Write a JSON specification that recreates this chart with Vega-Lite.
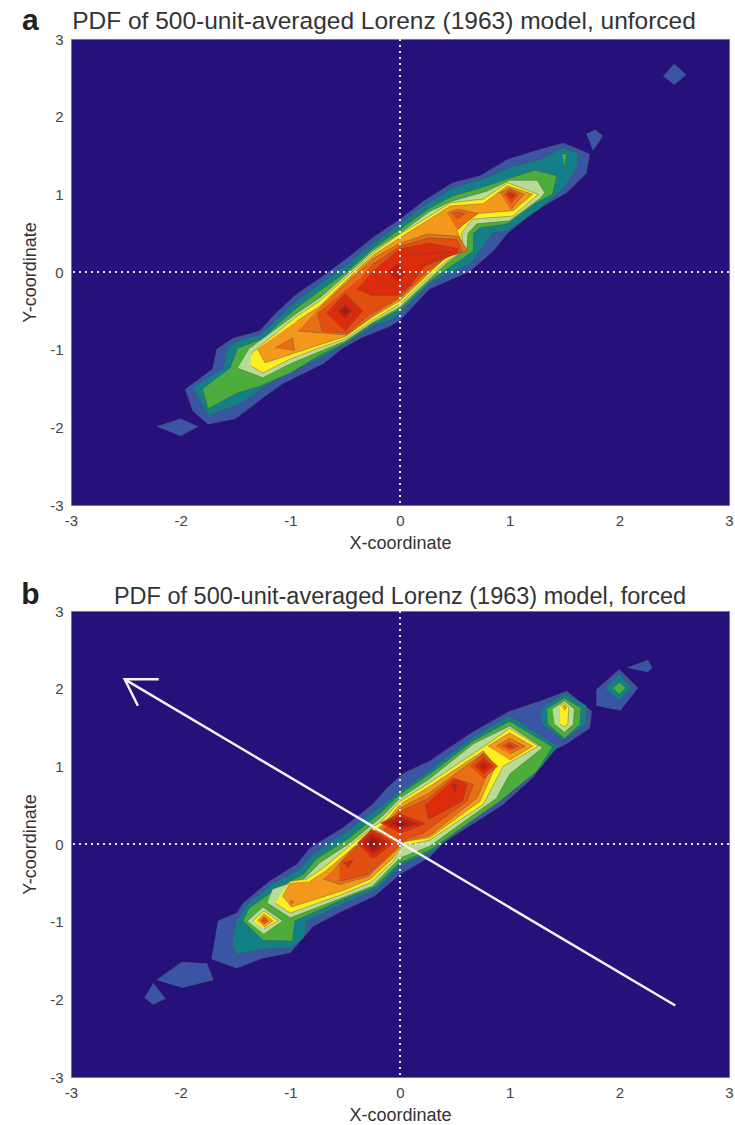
{"$schema":"https://vega.github.io/schema/vega-lite/v6.json","background":"white","padding":{"left":20,"top":5,"right":0,"bottom":0},"spacing":26,
"config":{"view":{"fill":"#26107a","stroke":"#777","strokeWidth":1},"font":"Liberation Sans",
"axis":{"ticks":false,"domain":false,"grid":false,"labelFontSize":15,"labelColor":"#444","titleColor":"#333","titleFontSize":18,"titleFontWeight":"normal","labelPadding":8,"titlePadding":6,"labelFlush":false},
"title":{"fontWeight":"normal","color":"#333","anchor":"middle"}},
"datasets":{
"A":[
{"s":"a1","l":"L1","x":-1.96,"y":-1.51},{"s":"a1","l":"L1","x":-1.89,"y":-1.79},{"s":"a1","l":"L1","x":-1.75,"y":-1.96},{"s":"a1","l":"L1","x":-1.5,"y":-1.89},{"s":"a1","l":"L1","x":-1.23,"y":-1.6},{"s":"a1","l":"L1","x":-1.07,"y":-1.44},{"s":"a1","l":"L1","x":-0.7,"y":-1.18},{"s":"a1","l":"L1","x":-0.52,"y":-0.98},{"s":"a1","l":"L1","x":-0.34,"y":-0.84},{"s":"a1","l":"L1","x":-0.09,"y":-0.7},{"s":"a1","l":"L1","x":0,"y":-0.62},{"s":"a1","l":"L1","x":0.27,"y":-0.22},{"s":"a1","l":"L1","x":0.43,"y":-0.12},{"s":"a1","l":"L1","x":0.64,"y":0.01},{"s":"a1","l":"L1","x":0.85,"y":0.27},{"s":"a1","l":"L1","x":0.98,"y":0.5},{"s":"a1","l":"L1","x":1.26,"y":0.81},{"s":"a1","l":"L1","x":1.52,"y":1.02},{"s":"a1","l":"L1","x":1.7,"y":1.27},{"s":"a1","l":"L1","x":1.73,"y":1.52},{"s":"a1","l":"L1","x":1.49,"y":1.66},{"s":"a1","l":"L1","x":1.28,"y":1.58},{"s":"a1","l":"L1","x":0.98,"y":1.45},{"s":"a1","l":"L1","x":0.73,"y":1.24},{"s":"a1","l":"L1","x":0.48,"y":1.15},{"s":"a1","l":"L1","x":0.21,"y":0.91},{"s":"a1","l":"L1","x":0,"y":0.68},{"s":"a1","l":"L1","x":-0.25,"y":0.44},{"s":"a1","l":"L1","x":-0.48,"y":0.18},{"s":"a1","l":"L1","x":-0.73,"y":-0.08},{"s":"a1","l":"L1","x":-0.94,"y":-0.28},{"s":"a1","l":"L1","x":-1.14,"y":-0.54},{"s":"a1","l":"L1","x":-1.28,"y":-0.76},{"s":"a1","l":"L1","x":-1.52,"y":-0.85},{"s":"a1","l":"L1","x":-1.67,"y":-0.99},{"s":"a1","l":"L1","x":-1.71,"y":-1.25},
{"s":"a1b","l":"L1","x":-2.22,"y":-1.99},{"s":"a1b","l":"L1","x":-2,"y":-1.89},{"s":"a1b","l":"L1","x":-1.84,"y":-1.99},{"s":"a1b","l":"L1","x":-2,"y":-2.11},
{"s":"a1c","l":"L1","x":2.4,"y":2.52},{"s":"a1c","l":"L1","x":2.5,"y":2.68},{"s":"a1c","l":"L1","x":2.61,"y":2.54},{"s":"a1c","l":"L1","x":2.5,"y":2.41},
{"s":"a1d","l":"L1","x":1.7,"y":1.78},{"s":"a1d","l":"L1","x":1.78,"y":1.83},{"s":"a1d","l":"L1","x":1.85,"y":1.75},{"s":"a1d","l":"L1","x":1.76,"y":1.56},
{"s":"a2","l":"L2","x":-1.89,"y":-1.49},{"s":"a2","l":"L2","x":-1.75,"y":-1.85},{"s":"a2","l":"L2","x":-1.46,"y":-1.7},{"s":"a2","l":"L2","x":-1.25,"y":-1.49},{"s":"a2","l":"L2","x":-1.07,"y":-1.34},{"s":"a2","l":"L2","x":-0.73,"y":-1.11},{"s":"a2","l":"L2","x":-0.5,"y":-0.93},{"s":"a2","l":"L2","x":-0.25,"y":-0.7},{"s":"a2","l":"L2","x":-0.09,"y":-0.62},{"s":"a2","l":"L2","x":0,"y":-0.53},{"s":"a2","l":"L2","x":0.27,"y":-0.15},{"s":"a2","l":"L2","x":0.43,"y":-0.03},{"s":"a2","l":"L2","x":0.64,"y":0.1},{"s":"a2","l":"L2","x":0.76,"y":0.33},{"s":"a2","l":"L2","x":0.84,"y":0.5},{"s":"a2","l":"L2","x":0.98,"y":0.53},{"s":"a2","l":"L2","x":1.28,"y":0.82},{"s":"a2","l":"L2","x":1.49,"y":1.07},{"s":"a2","l":"L2","x":1.61,"y":1.34},{"s":"a2","l":"L2","x":1.63,"y":1.52},{"s":"a2","l":"L2","x":1.49,"y":1.6},{"s":"a2","l":"L2","x":1.28,"y":1.45},{"s":"a2","l":"L2","x":1.03,"y":1.36},{"s":"a2","l":"L2","x":0.76,"y":1.2},{"s":"a2","l":"L2","x":0.48,"y":1.08},{"s":"a2","l":"L2","x":0.21,"y":0.85},{"s":"a2","l":"L2","x":0,"y":0.62},{"s":"a2","l":"L2","x":-0.25,"y":0.37},{"s":"a2","l":"L2","x":-0.48,"y":0.1},{"s":"a2","l":"L2","x":-0.73,"y":-0.15},{"s":"a2","l":"L2","x":-0.94,"y":-0.37},{"s":"a2","l":"L2","x":-1.12,"y":-0.6},{"s":"a2","l":"L2","x":-1.26,"y":-0.8},{"s":"a2","l":"L2","x":-1.49,"y":-0.89},{"s":"a2","l":"L2","x":-1.57,"y":-0.98},{"s":"a2","l":"L2","x":-1.62,"y":-1.25},
{"s":"a3","l":"L3","x":-1.8,"y":-1.51},{"s":"a3","l":"L3","x":-1.75,"y":-1.76},{"s":"a3","l":"L3","x":-1.49,"y":-1.56},{"s":"a3","l":"L3","x":-1.28,"y":-1.47},{"s":"a3","l":"L3","x":-1,"y":-1.3},{"s":"a3","l":"L3","x":-0.73,"y":-1.07},{"s":"a3","l":"L3","x":-0.5,"y":-0.91},{"s":"a3","l":"L3","x":-0.25,"y":-0.67},{"s":"a3","l":"L3","x":0,"y":-0.48},{"s":"a3","l":"L3","x":0.27,"y":-0.12},{"s":"a3","l":"L3","x":0.43,"y":0.04},{"s":"a3","l":"L3","x":0.67,"y":0.27},{"s":"a3","l":"L3","x":0.67,"y":0.5},{"s":"a3","l":"L3","x":0.73,"y":0.57},{"s":"a3","l":"L3","x":0.98,"y":0.62},{"s":"a3","l":"L3","x":1.23,"y":0.88},{"s":"a3","l":"L3","x":1.39,"y":1},{"s":"a3","l":"L3","x":1.43,"y":1.24},{"s":"a3","l":"L3","x":1.23,"y":1.31},{"s":"a3","l":"L3","x":0.98,"y":1.2},{"s":"a3","l":"L3","x":0.73,"y":1.08},{"s":"a3","l":"L3","x":0.48,"y":0.98},{"s":"a3","l":"L3","x":0.27,"y":0.82},{"s":"a3","l":"L3","x":0,"y":0.55},{"s":"a3","l":"L3","x":-0.25,"y":0.3},{"s":"a3","l":"L3","x":-0.48,"y":0.01},{"s":"a3","l":"L3","x":-0.73,"y":-0.24},{"s":"a3","l":"L3","x":-0.94,"y":-0.46},{"s":"a3","l":"L3","x":-1.11,"y":-0.67},{"s":"a3","l":"L3","x":-1.25,"y":-0.86},{"s":"a3","l":"L3","x":-1.48,"y":-0.98},{"s":"a3","l":"L3","x":-1.55,"y":-1.24},
{"s":"a3b","l":"L3","x":1.48,"y":1.52},{"s":"a3b","l":"L3","x":1.52,"y":1.52},{"s":"a3b","l":"L3","x":1.5,"y":1.35},
{"s":"a4","l":"L4","x":-1.48,"y":-1.24},{"s":"a4","l":"L4","x":-1.25,"y":-1.36},{"s":"a4","l":"L4","x":-1,"y":-1.18},{"s":"a4","l":"L4","x":-0.76,"y":-1.04},{"s":"a4","l":"L4","x":-0.5,"y":-0.89},{"s":"a4","l":"L4","x":-0.25,"y":-0.65},{"s":"a4","l":"L4","x":0,"y":-0.45},{"s":"a4","l":"L4","x":0.27,"y":-0.09},{"s":"a4","l":"L4","x":0.43,"y":0.12},{"s":"a4","l":"L4","x":0.61,"y":0.3},{"s":"a4","l":"L4","x":0.62,"y":0.5},{"s":"a4","l":"L4","x":0.7,"y":0.62},{"s":"a4","l":"L4","x":1,"y":0.66},{"s":"a4","l":"L4","x":1.28,"y":0.95},{"s":"a4","l":"L4","x":1.32,"y":1.02},{"s":"a4","l":"L4","x":1.25,"y":1.18},{"s":"a4","l":"L4","x":1,"y":1.18},{"s":"a4","l":"L4","x":0.79,"y":1.04},{"s":"a4","l":"L4","x":0.47,"y":0.91},{"s":"a4","l":"L4","x":0.27,"y":0.78},{"s":"a4","l":"L4","x":0,"y":0.5},{"s":"a4","l":"L4","x":-0.25,"y":0.27},{"s":"a4","l":"L4","x":-0.39,"y":0.09},{"s":"a4","l":"L4","x":-0.73,"y":-0.33},{"s":"a4","l":"L4","x":-0.94,"y":-0.53},{"s":"a4","l":"L4","x":-1.12,"y":-0.72},{"s":"a4","l":"L4","x":-1.37,"y":-0.98},
{"s":"a5","l":"L5","x":-1.36,"y":-1.21},{"s":"a5","l":"L5","x":-1.25,"y":-1.3},{"s":"a5","l":"L5","x":-1,"y":-1.12},{"s":"a5","l":"L5","x":-0.76,"y":-0.99},{"s":"a5","l":"L5","x":-0.5,"y":-0.86},{"s":"a5","l":"L5","x":-0.25,"y":-0.62},{"s":"a5","l":"L5","x":0,"y":-0.41},{"s":"a5","l":"L5","x":0.27,"y":-0.05},{"s":"a5","l":"L5","x":0.43,"y":0.15},{"s":"a5","l":"L5","x":0.58,"y":0.27},{"s":"a5","l":"L5","x":0.56,"y":0.5},{"s":"a5","l":"L5","x":0.66,"y":0.68},{"s":"a5","l":"L5","x":1.03,"y":0.72},{"s":"a5","l":"L5","x":1.26,"y":1},{"s":"a5","l":"L5","x":0.98,"y":1.15},{"s":"a5","l":"L5","x":0.76,"y":0.94},{"s":"a5","l":"L5","x":0.46,"y":0.89},{"s":"a5","l":"L5","x":0.27,"y":0.72},{"s":"a5","l":"L5","x":0,"y":0.49},{"s":"a5","l":"L5","x":-0.25,"y":0.24},{"s":"a5","l":"L5","x":-0.39,"y":0.06},{"s":"a5","l":"L5","x":-0.73,"y":-0.37},{"s":"a5","l":"L5","x":-0.94,"y":-0.57},{"s":"a5","l":"L5","x":-1.3,"y":-0.98},{"s":"a5","l":"L5","x":-1.36,"y":-1.06},
{"s":"a6","l":"L6","x":-1.3,"y":-0.99},{"s":"a6","l":"L6","x":-1.23,"y":-1.17},{"s":"a6","l":"L6","x":-0.76,"y":-0.95},{"s":"a6","l":"L6","x":-0.5,"y":-0.83},{"s":"a6","l":"L6","x":-0.25,"y":-0.58},{"s":"a6","l":"L6","x":0,"y":-0.37},{"s":"a6","l":"L6","x":0.27,"y":-0.01},{"s":"a6","l":"L6","x":0.43,"y":0.21},{"s":"a6","l":"L6","x":0.6,"y":0.27},{"s":"a6","l":"L6","x":0.52,"y":0.53},{"s":"a6","l":"L6","x":0.67,"y":0.75},{"s":"a6","l":"L6","x":1.03,"y":0.79},{"s":"a6","l":"L6","x":1.21,"y":1},{"s":"a6","l":"L6","x":0.98,"y":1.11},{"s":"a6","l":"L6","x":0.76,"y":0.88},{"s":"a6","l":"L6","x":0.46,"y":0.85},{"s":"a6","l":"L6","x":0.27,"y":0.68},{"s":"a6","l":"L6","x":0,"y":0.44},{"s":"a6","l":"L6","x":-0.25,"y":0.21},{"s":"a6","l":"L6","x":-0.39,"y":0.03},{"s":"a6","l":"L6","x":-0.73,"y":-0.44},{"s":"a6","l":"L6","x":-0.94,"y":-0.63},
{"s":"a7","l":"L7","x":-0.93,"y":-0.76},{"s":"a7","l":"L7","x":-0.48,"y":-0.81},{"s":"a7","l":"L7","x":-0.25,"y":-0.56},{"s":"a7","l":"L7","x":0,"y":-0.34},{"s":"a7","l":"L7","x":0.27,"y":0.01},{"s":"a7","l":"L7","x":0.43,"y":0.2},{"s":"a7","l":"L7","x":0.62,"y":0.27},{"s":"a7","l":"L7","x":0.53,"y":0.46},{"s":"a7","l":"L7","x":0.25,"y":0.49},{"s":"a7","l":"L7","x":0,"y":0.37},{"s":"a7","l":"L7","x":-0.25,"y":0.17},{"s":"a7","l":"L7","x":-0.39,"y":-0.01},{"s":"a7","l":"L7","x":-0.73,"y":-0.46},
{"s":"a7b","l":"L7","x":-1.14,"y":-0.98},{"s":"a7b","l":"L7","x":-0.98,"y":-0.85},{"s":"a7b","l":"L7","x":-0.96,"y":-1.02},
{"s":"a7c","l":"L7","x":0.43,"y":0.76},{"s":"a7c","l":"L7","x":0.53,"y":0.81},{"s":"a7c","l":"L7","x":0.71,"y":0.75},{"s":"a7c","l":"L7","x":0.52,"y":0.55},
{"s":"a8c","l":"L8","x":0.47,"y":0.76},{"s":"a8c","l":"L8","x":0.53,"y":0.77},{"s":"a8c","l":"L8","x":0.59,"y":0.75},{"s":"a8c","l":"L8","x":0.52,"y":0.68},
{"s":"a7d","l":"L7","x":0.91,"y":1.02},{"s":"a7d","l":"L7","x":1,"y":1.08},{"s":"a7d","l":"L7","x":1.13,"y":1},{"s":"a7d","l":"L7","x":1.01,"y":0.8},
{"s":"a8d","l":"L8","x":0.95,"y":1},{"s":"a8d","l":"L8","x":1,"y":1.06},{"s":"a8d","l":"L8","x":1.08,"y":1},{"s":"a8d","l":"L8","x":1.01,"y":0.88},
{"s":"a9d","l":"L9","x":0.97,"y":1},{"s":"a9d","l":"L9","x":1,"y":1.03},{"s":"a9d","l":"L9","x":1.05,"y":0.99},{"s":"a9d","l":"L9","x":1.01,"y":0.93},
{"s":"a8","l":"L8","x":-0.75,"y":-0.53},{"s":"a8","l":"L8","x":-0.71,"y":-0.76},{"s":"a8","l":"L8","x":-0.48,"y":-0.79},{"s":"a8","l":"L8","x":-0.29,"y":-0.56},{"s":"a8","l":"L8","x":0,"y":-0.32},{"s":"a8","l":"L8","x":0.27,"y":0.04},{"s":"a8","l":"L8","x":0.43,"y":0.19},{"s":"a8","l":"L8","x":0.57,"y":0.27},{"s":"a8","l":"L8","x":0.52,"y":0.42},{"s":"a8","l":"L8","x":0.27,"y":0.44},{"s":"a8","l":"L8","x":0,"y":0.33},{"s":"a8","l":"L8","x":-0.25,"y":0.1},{"s":"a8","l":"L8","x":-0.34,"y":-0.05},
{"s":"a9b","l":"L9","x":-0.67,"y":-0.53},{"s":"a9b","l":"L9","x":-0.5,"y":-0.28},{"s":"a9b","l":"L9","x":-0.34,"y":-0.5},{"s":"a9b","l":"L9","x":-0.5,"y":-0.76},
{"s":"a10b","l":"L9","x":-0.61,"y":-0.5},{"s":"a10b","l":"L9","x":-0.5,"y":-0.37},{"s":"a10b","l":"L9","x":-0.39,"y":-0.5},{"s":"a10b","l":"L9","x":-0.5,"y":-0.68},
{"s":"a11b","l":"L10","x":-0.57,"y":-0.5},{"s":"a11b","l":"L10","x":-0.5,"y":-0.42},{"s":"a11b","l":"L10","x":-0.44,"y":-0.5},{"s":"a11b","l":"L10","x":-0.5,"y":-0.6},
{"s":"a12b","l":"L11","x":-0.53,"y":-0.5},{"s":"a12b","l":"L11","x":-0.5,"y":-0.46},{"s":"a12b","l":"L11","x":-0.46,"y":-0.5},{"s":"a12b","l":"L11","x":-0.5,"y":-0.55},
{"s":"a9","l":"L9","x":-0.39,"y":-0.22},{"s":"a9","l":"L9","x":-0.26,"y":-0.3},{"s":"a9","l":"L9","x":-0.02,"y":-0.3},{"s":"a9","l":"L9","x":0.09,"y":-0.18},{"s":"a9","l":"L9","x":0.23,"y":0.08},{"s":"a9","l":"L9","x":0.52,"y":0.24},{"s":"a9","l":"L9","x":0.53,"y":0.3},{"s":"a9","l":"L9","x":0.27,"y":0.37},{"s":"a9","l":"L9","x":0,"y":0.3},{"s":"a9","l":"L9","x":-0.26,"y":-0.01},
{"s":"a10","l":"L9","x":-0.26,"y":-0.01},{"s":"a10","l":"L9","x":-0.11,"y":-0.15},{"s":"a10","l":"L9","x":-0.02,"y":-0.22},{"s":"a10","l":"L9","x":0.07,"y":-0.14},{"s":"a10","l":"L9","x":0.2,"y":0.08},{"s":"a10","l":"L9","x":0.46,"y":0.26},{"s":"a10","l":"L9","x":0.02,"y":0.21},
{"s":"a11","l":"L10","x":-0.11,"y":0.01},{"s":"a11","l":"L10","x":-0.02,"y":0.1},{"s":"a11","l":"L10","x":0.05,"y":-0.01},{"s":"a11","l":"L10","x":-0.03,"y":-0.12}
],
"B":[
{"s":"b1","l":"L1","x":-1.72,"y":-1.48},{"s":"b1","l":"L1","x":-1.49,"y":-1.6},{"s":"b1","l":"L1","x":-1.25,"y":-1.47},{"s":"b1","l":"L1","x":-1,"y":-1.4},{"s":"b1","l":"L1","x":-0.79,"y":-1.06},{"s":"b1","l":"L1","x":-0.52,"y":-0.86},{"s":"b1","l":"L1","x":-0.23,"y":-0.67},{"s":"b1","l":"L1","x":0,"y":-0.39},{"s":"b1","l":"L1","x":0.27,"y":-0.17},{"s":"b1","l":"L1","x":0.39,"y":0.01},{"s":"b1","l":"L1","x":0.94,"y":0.51},{"s":"b1","l":"L1","x":1.21,"y":0.85},{"s":"b1","l":"L1","x":1.39,"y":1.2},{"s":"b1","l":"L1","x":1.52,"y":1.29},{"s":"b1","l":"L1","x":1.73,"y":1.49},{"s":"b1","l":"L1","x":1.75,"y":1.71},{"s":"b1","l":"L1","x":1.52,"y":1.97},{"s":"b1","l":"L1","x":1.28,"y":1.84},{"s":"b1","l":"L1","x":1,"y":1.71},{"s":"b1","l":"L1","x":0.67,"y":1.45},{"s":"b1","l":"L1","x":0.27,"y":1.07},{"s":"b1","l":"L1","x":0.03,"y":0.91},{"s":"b1","l":"L1","x":-0.12,"y":0.72},{"s":"b1","l":"L1","x":-0.25,"y":0.51},{"s":"b1","l":"L1","x":-0.52,"y":0.21},{"s":"b1","l":"L1","x":-0.82,"y":-0.05},{"s":"b1","l":"L1","x":-0.94,"y":-0.26},{"s":"b1","l":"L1","x":-1.19,"y":-0.48},{"s":"b1","l":"L1","x":-1.43,"y":-0.76},{"s":"b1","l":"L1","x":-1.49,"y":-0.89},{"s":"b1","l":"L1","x":-1.66,"y":-0.99},
{"s":"b1b","l":"L1","x":-2.22,"y":-1.75},{"s":"b1b","l":"L1","x":-1.99,"y":-1.52},{"s":"b1b","l":"L1","x":-1.76,"y":-1.54},{"s":"b1b","l":"L1","x":-1.7,"y":-1.75},{"s":"b1b","l":"L1","x":-1.99,"y":-1.85},
{"s":"b1c","l":"L1","x":-2.25,"y":-1.79},{"s":"b1c","l":"L1","x":-2.14,"y":-1.99},{"s":"b1c","l":"L1","x":-2.25,"y":-2.07},{"s":"b1c","l":"L1","x":-2.33,"y":-1.98},
{"s":"b1d","l":"L1","x":1.79,"y":1.99},{"s":"b1d","l":"L1","x":2,"y":2.25},{"s":"b1d","l":"L1","x":2.17,"y":2.01},{"s":"b1d","l":"L1","x":2.01,"y":1.72},{"s":"b1d","l":"L1","x":1.79,"y":1.78},
{"s":"b1e","l":"L1","x":2.07,"y":2.27},{"s":"b1e","l":"L1","x":2.26,"y":2.37},{"s":"b1e","l":"L1","x":2.3,"y":2.27},{"s":"b1e","l":"L1","x":2.26,"y":2.21},
{"s":"b2","l":"L2","x":-1.53,"y":-1.29},{"s":"b2","l":"L2","x":-1.49,"y":-1.42},{"s":"b2","l":"L2","x":-1.25,"y":-1.35},{"s":"b2","l":"L2","x":-1,"y":-1.34},{"s":"b2","l":"L2","x":-0.88,"y":-1.21},{"s":"b2","l":"L2","x":-0.85,"y":-0.99},{"s":"b2","l":"L2","x":-0.52,"y":-0.77},{"s":"b2","l":"L2","x":-0.21,"y":-0.58},{"s":"b2","l":"L2","x":0,"y":-0.28},{"s":"b2","l":"L2","x":0.27,"y":-0.12},{"s":"b2","l":"L2","x":0.98,"y":0.64},{"s":"b2","l":"L2","x":1.28,"y":0.98},{"s":"b2","l":"L2","x":1.44,"y":1.26},{"s":"b2","l":"L2","x":1,"y":1.65},{"s":"b2","l":"L2","x":0.67,"y":1.39},{"s":"b2","l":"L2","x":0.27,"y":0.95},{"s":"b2","l":"L2","x":0,"y":0.68},{"s":"b2","l":"L2","x":-0.21,"y":0.45},{"s":"b2","l":"L2","x":-0.52,"y":0.13},{"s":"b2","l":"L2","x":-0.79,"y":-0.13},{"s":"b2","l":"L2","x":-0.91,"y":-0.32},{"s":"b2","l":"L2","x":-1.16,"y":-0.51},{"s":"b2","l":"L2","x":-1.39,"y":-0.77},{"s":"b2","l":"L2","x":-1.49,"y":-0.99},
{"s":"b2b","l":"L2","x":1.28,"y":1.74},{"s":"b2b","l":"L2","x":1.5,"y":1.94},{"s":"b2b","l":"L2","x":1.7,"y":1.78},{"s":"b2b","l":"L2","x":1.7,"y":1.56},{"s":"b2b","l":"L2","x":1.49,"y":1.33},{"s":"b2b","l":"L2","x":1.3,"y":1.54},
{"s":"b3b","l":"L3","x":1.34,"y":1.74},{"s":"b3b","l":"L3","x":1.5,"y":1.88},{"s":"b3b","l":"L3","x":1.65,"y":1.75},{"s":"b3b","l":"L3","x":1.64,"y":1.54},{"s":"b3b","l":"L3","x":1.5,"y":1.36},{"s":"b3b","l":"L3","x":1.35,"y":1.54},
{"s":"b4b","l":"L4","x":1.39,"y":1.74},{"s":"b4b","l":"L4","x":1.5,"y":1.84},{"s":"b4b","l":"L4","x":1.59,"y":1.74},{"s":"b4b","l":"L4","x":1.58,"y":1.54},{"s":"b4b","l":"L4","x":1.5,"y":1.44},{"s":"b4b","l":"L4","x":1.41,"y":1.54},
{"s":"b5b","l":"L5","x":1.46,"y":1.78},{"s":"b5b","l":"L5","x":1.5,"y":1.81},{"s":"b5b","l":"L5","x":1.54,"y":1.76},{"s":"b5b","l":"L5","x":1.53,"y":1.54},{"s":"b5b","l":"L5","x":1.5,"y":1.51},{"s":"b5b","l":"L5","x":1.46,"y":1.54},
{"s":"b6b","l":"L6","x":1.48,"y":1.76},{"s":"b6b","l":"L6","x":1.5,"y":1.79},{"s":"b6b","l":"L6","x":1.52,"y":1.76},{"s":"b6b","l":"L6","x":1.5,"y":1.72},
{"s":"b2c","l":"L2","x":1.87,"y":2.01},{"s":"b2c","l":"L2","x":2,"y":2.19},{"s":"b2c","l":"L2","x":2.11,"y":2.01},{"s":"b2c","l":"L2","x":2,"y":1.85},
{"s":"b3c","l":"L3","x":1.94,"y":2.01},{"s":"b3c","l":"L3","x":2,"y":2.08},{"s":"b3c","l":"L3","x":2.06,"y":2.01},{"s":"b3c","l":"L3","x":2,"y":1.93},
{"s":"b3","l":"L3","x":-1.43,"y":-0.99},{"s":"b3","l":"L3","x":-1.25,"y":-1.24},{"s":"b3","l":"L3","x":-0.98,"y":-1.25},{"s":"b3","l":"L3","x":-0.96,"y":-0.99},{"s":"b3","l":"L3","x":-0.52,"y":-0.71},{"s":"b3","l":"L3","x":-0.23,"y":-0.55},{"s":"b3","l":"L3","x":0,"y":-0.24},{"s":"b3","l":"L3","x":0.27,"y":-0.08},{"s":"b3","l":"L3","x":0.91,"y":0.55},{"s":"b3","l":"L3","x":1.25,"y":0.94},{"s":"b3","l":"L3","x":1.39,"y":1.25},{"s":"b3","l":"L3","x":1,"y":1.58},{"s":"b3","l":"L3","x":0.67,"y":1.33},{"s":"b3","l":"L3","x":0.27,"y":0.9},{"s":"b3","l":"L3","x":0,"y":0.64},{"s":"b3","l":"L3","x":-0.18,"y":0.4},{"s":"b3","l":"L3","x":-0.48,"y":0.06},{"s":"b3","l":"L3","x":-0.76,"y":-0.19},{"s":"b3","l":"L3","x":-0.88,"y":-0.39},{"s":"b3","l":"L3","x":-1.12,"y":-0.57},{"s":"b3","l":"L3","x":-1.37,"y":-0.82},
{"s":"b4d","l":"L4","x":-1.39,"y":-0.99},{"s":"b4d","l":"L4","x":-1.25,"y":-0.81},{"s":"b4d","l":"L4","x":-1.07,"y":-0.99},{"s":"b4d","l":"L4","x":-1.24,"y":-1.16},
{"s":"b5d","l":"L5","x":-1.34,"y":-0.99},{"s":"b5d","l":"L5","x":-1.24,"y":-0.86},{"s":"b5d","l":"L5","x":-1.11,"y":-0.99},{"s":"b5d","l":"L5","x":-1.24,"y":-1.09},
{"s":"b6d","l":"L6","x":-1.3,"y":-0.99},{"s":"b6d","l":"L6","x":-1.24,"y":-0.9},{"s":"b6d","l":"L6","x":-1.16,"y":-0.99},{"s":"b6d","l":"L6","x":-1.24,"y":-1.07},
{"s":"b7d","l":"L8","x":-1.27,"y":-0.99},{"s":"b7d","l":"L8","x":-1.24,"y":-0.94},{"s":"b7d","l":"L8","x":-1.2,"y":-0.99},{"s":"b7d","l":"L8","x":-1.24,"y":-1.03},
{"s":"b4","l":"L4","x":-1.21,"y":-0.76},{"s":"b4","l":"L4","x":-1,"y":-0.95},{"s":"b4","l":"L4","x":-0.52,"y":-0.69},{"s":"b4","l":"L4","x":-0.25,"y":-0.54},{"s":"b4","l":"L4","x":0,"y":-0.18},{"s":"b4","l":"L4","x":0.27,"y":-0.03},{"s":"b4","l":"L4","x":0.88,"y":0.59},{"s":"b4","l":"L4","x":1,"y":0.9},{"s":"b4","l":"L4","x":1.3,"y":1.24},{"s":"b4","l":"L4","x":1,"y":1.52},{"s":"b4","l":"L4","x":0.67,"y":1.29},{"s":"b4","l":"L4","x":0.27,"y":0.84},{"s":"b4","l":"L4","x":0,"y":0.59},{"s":"b4","l":"L4","x":-0.16,"y":0.36},{"s":"b4","l":"L4","x":-0.46,"y":0.01},{"s":"b4","l":"L4","x":-0.73,"y":-0.24},{"s":"b4","l":"L4","x":-0.87,"y":-0.44},{"s":"b4","l":"L4","x":-1.16,"y":-0.58},
{"s":"b5","l":"L5","x":-1.14,"y":-0.76},{"s":"b5","l":"L5","x":-1,"y":-0.89},{"s":"b5","l":"L5","x":-0.55,"y":-0.66},{"s":"b5","l":"L5","x":-0.27,"y":-0.5},{"s":"b5","l":"L5","x":-0.06,"y":-0.22},{"s":"b5","l":"L5","x":0.01,"y":-0.03},{"s":"b5","l":"L5","x":0.27,"y":0.05},{"s":"b5","l":"L5","x":0.76,"y":0.51},{"s":"b5","l":"L5","x":0.94,"y":1},{"s":"b5","l":"L5","x":1.26,"y":1.26},{"s":"b5","l":"L5","x":1,"y":1.49},{"s":"b5","l":"L5","x":0.76,"y":1.25},{"s":"b5","l":"L5","x":0.27,"y":0.79},{"s":"b5","l":"L5","x":0,"y":0.55},{"s":"b5","l":"L5","x":-0.15,"y":0.32},{"s":"b5","l":"L5","x":-0.44,"y":0},{"s":"b5","l":"L5","x":-0.7,"y":-0.31},{"s":"b5","l":"L5","x":-0.85,"y":-0.45},{"s":"b5","l":"L5","x":-1,"y":-0.48},
{"s":"b6","l":"L6","x":-1,"y":-0.5},{"s":"b6","l":"L6","x":-1.07,"y":-0.67},{"s":"b6","l":"L6","x":-0.99,"y":-0.81},{"s":"b6","l":"L6","x":-0.52,"y":-0.6},{"s":"b6","l":"L6","x":-0.27,"y":-0.45},{"s":"b6","l":"L6","x":-0.07,"y":-0.19},{"s":"b6","l":"L6","x":0.03,"y":0.03},{"s":"b6","l":"L6","x":0.27,"y":0.08},{"s":"b6","l":"L6","x":0.73,"y":0.55},{"s":"b6","l":"L6","x":0.87,"y":1},{"s":"b6","l":"L6","x":0.76,"y":1.2},{"s":"b6","l":"L6","x":0.27,"y":0.74},{"s":"b6","l":"L6","x":0,"y":0.51},{"s":"b6","l":"L6","x":-0.14,"y":0.27},{"s":"b6","l":"L6","x":-0.41,"y":-0.03},{"s":"b6","l":"L6","x":-0.68,"y":-0.35},{"s":"b6","l":"L6","x":-0.82,"y":-0.48},
{"s":"b6e","l":"L6","x":0.8,"y":1.26},{"s":"b6e","l":"L6","x":1,"y":1.43},{"s":"b6e","l":"L6","x":1.21,"y":1.26},{"s":"b6e","l":"L6","x":1,"y":1.08},
{"s":"b7e","l":"L7","x":0.88,"y":1.26},{"s":"b7e","l":"L7","x":1,"y":1.36},{"s":"b7e","l":"L7","x":1.14,"y":1.26},{"s":"b7e","l":"L7","x":1,"y":1.16},
{"s":"b8e","l":"L8","x":0.93,"y":1.26},{"s":"b8e","l":"L8","x":1,"y":1.31},{"s":"b8e","l":"L8","x":1.08,"y":1.26},{"s":"b8e","l":"L8","x":1,"y":1.21},
{"s":"b9e","l":"L9","x":0.97,"y":1.26},{"s":"b9e","l":"L9","x":1,"y":1.28},{"s":"b9e","l":"L9","x":1.03,"y":1.26},{"s":"b9e","l":"L9","x":1,"y":1.24},
{"s":"b7f","l":"L7","x":-1.01,"y":-0.75},{"s":"b7f","l":"L7","x":-0.99,"y":-0.72},{"s":"b7f","l":"L7","x":-0.97,"y":-0.75},{"s":"b7f","l":"L7","x":-0.99,"y":-0.78},
{"s":"b7","l":"L7","x":-0.7,"y":-0.45},{"s":"b7","l":"L7","x":-0.55,"y":-0.52},{"s":"b7","l":"L7","x":-0.29,"y":-0.42},{"s":"b7","l":"L7","x":-0.09,"y":-0.15},{"s":"b7","l":"L7","x":0.05,"y":0.04},{"s":"b7","l":"L7","x":0.27,"y":0.11},{"s":"b7","l":"L7","x":0.7,"y":0.59},{"s":"b7","l":"L7","x":0.82,"y":0.97},{"s":"b7","l":"L7","x":0.76,"y":1.17},{"s":"b7","l":"L7","x":0.27,"y":0.66},{"s":"b7","l":"L7","x":0,"y":0.46},{"s":"b7","l":"L7","x":-0.15,"y":0.23},{"s":"b7","l":"L7","x":-0.43,"y":-0.05},{"s":"b7","l":"L7","x":-0.59,"y":-0.31},
{"s":"b8g","l":"L8","x":0.64,"y":1},{"s":"b8g","l":"L8","x":0.76,"y":1.17},{"s":"b8g","l":"L8","x":0.89,"y":1},{"s":"b8g","l":"L8","x":0.76,"y":0.84},
{"s":"b9g","l":"L9","x":0.68,"y":1},{"s":"b9g","l":"L9","x":0.76,"y":1.11},{"s":"b9g","l":"L9","x":0.85,"y":1},{"s":"b9g","l":"L9","x":0.76,"y":0.9},
{"s":"b10g","l":"L10","x":0.72,"y":1},{"s":"b10g","l":"L10","x":0.76,"y":1.05},{"s":"b10g","l":"L10","x":0.8,"y":1},{"s":"b10g","l":"L10","x":0.76,"y":0.95},
{"s":"b8","l":"L8","x":-0.55,"y":-0.48},{"s":"b8","l":"L8","x":-0.29,"y":-0.39},{"s":"b8","l":"L8","x":-0.06,"y":-0.09},{"s":"b8","l":"L8","x":0.05,"y":0.06},{"s":"b8","l":"L8","x":0.21,"y":0.14},{"s":"b8","l":"L8","x":0.61,"y":0.55},{"s":"b8","l":"L8","x":0.67,"y":0.77},{"s":"b8","l":"L8","x":0.48,"y":0.85},{"s":"b8","l":"L8","x":0.25,"y":0.58},{"s":"b8","l":"L8","x":0,"y":0.42},{"s":"b8","l":"L8","x":-0.15,"y":0.17},{"s":"b8","l":"L8","x":-0.39,"y":-0.03},{"s":"b8","l":"L8","x":-0.55,"y":-0.26},
{"s":"b9h","l":"L9","x":0.23,"y":0.51},{"s":"b9h","l":"L9","x":0.26,"y":0.32},{"s":"b9h","l":"L9","x":0.57,"y":0.55},{"s":"b9h","l":"L9","x":0.61,"y":0.77},{"s":"b9h","l":"L9","x":0.5,"y":0.84},
{"s":"b10h","l":"L10","x":0.47,"y":0.77},{"s":"b10h","l":"L10","x":0.52,"y":0.77},{"s":"b10h","l":"L10","x":0.5,"y":0.66},
{"s":"b9i","l":"L9","x":-0.18,"y":0.27},{"s":"b9i","l":"L9","x":0,"y":0.39},{"s":"b9i","l":"L9","x":0.23,"y":0.26},{"s":"b9i","l":"L9","x":0,"y":0.14},
{"s":"b10i","l":"L10","x":-0.14,"y":0.27},{"s":"b10i","l":"L10","x":0,"y":0.35},{"s":"b10i","l":"L10","x":0.16,"y":0.26},{"s":"b10i","l":"L10","x":0,"y":0.19},
{"s":"b11i","l":"L11","x":-0.07,"y":0.27},{"s":"b11i","l":"L11","x":0,"y":0.3},{"s":"b11i","l":"L11","x":0.08,"y":0.26},{"s":"b11i","l":"L11","x":0,"y":0.22},
{"s":"b9j","l":"L9","x":-0.39,"y":0.01},{"s":"b9j","l":"L9","x":-0.26,"y":0.19},{"s":"b9j","l":"L9","x":-0.06,"y":0.01},{"s":"b9j","l":"L9","x":-0.25,"y":-0.19},
{"s":"b10j","l":"L10","x":-0.35,"y":0.01},{"s":"b10j","l":"L10","x":-0.26,"y":0.14},{"s":"b10j","l":"L10","x":-0.11,"y":0.01},{"s":"b10j","l":"L10","x":-0.25,"y":-0.13},
{"s":"b11j","l":"L11","x":-0.3,"y":0.01},{"s":"b11j","l":"L11","x":-0.25,"y":0.09},{"s":"b11j","l":"L11","x":-0.17,"y":0.01},{"s":"b11j","l":"L11","x":-0.25,"y":-0.07},
{"s":"b9k","l":"L9","x":-0.52,"y":-0.24},{"s":"b9k","l":"L9","x":-0.43,"y":-0.21},{"s":"b9k","l":"L9","x":-0.47,"y":-0.31}
]},
"vconcat":[
{"width":658,"height":466,"title":{"text":"PDF of 500-unit-averaged Lorenz (1963) model, unforced","dx":-16,"fontSize":24.5,"offset":-28},
"layer":[
{"data":{"name":"A"},"mark":{"type":"line","stroke":"#5a4a3a","strokeWidth":0.8,"strokeOpacity":0.5,"strokeJoin":"miter"},
"encoding":{"x":{"field":"x","type":"quantitative","scale":{"domain":[-3,3],"nice":false},"axis":{"title":"X-coordinate","values":[-3,-2,-1,0,1,2,3],"labelExpr":"''+datum.value"}},
"y":{"field":"y","type":"quantitative","scale":{"domain":[-3,3],"nice":false},"axis":{"title":"Y-coordinate","values":[-3,-2,-1,0,1,2,3],"labelExpr":"''+datum.value","titlePadding":10}},
"detail":{"field":"s"},"order":{"value":null},
"fill":{"field":"l","type":"nominal","legend":null,"scale":{"domain":["L1","L2","L3","L4","L5","L6","L7","L8","L9","L10","L11"],"range":["#3b55a5","#138088","#4cad3c","#b8dc94","#fbef1f","#f39a1d","#e96f15","#e34f10","#dc2c0c","#bf1f10","#9c1a14"]}}}},
{"data":{"values":[{"v":0}]},"mark":{"type":"rule","stroke":"#e8e8f0","strokeWidth":2,"strokeDash":[2,4]},"encoding":{"x":{"field":"v","type":"quantitative"}}},
{"data":{"values":[{"v":0}]},"mark":{"type":"rule","stroke":"#e8e8f0","strokeWidth":2,"strokeDash":[2,4]},"encoding":{"y":{"field":"v","type":"quantitative"}}},
{"data":{"values":[{"x":-3.37,"y":3.23,"t":"a"}]},"mark":{"type":"text","fontSize":30,"fontWeight":"bold","color":"#222","clip":false},"encoding":{"x":{"field":"x","type":"quantitative"},"y":{"field":"y","type":"quantitative"},"text":{"field":"t"}}}
]},
{"width":658,"height":466,"title":{"text":"PDF of 500-unit-averaged Lorenz (1963) model, forced","fontSize":23.5,"offset":-28},
"layer":[
{"data":{"name":"B"},"mark":{"type":"line","stroke":"#5a4a3a","strokeWidth":0.8,"strokeOpacity":0.5,"strokeJoin":"miter"},
"encoding":{"x":{"field":"x","type":"quantitative","scale":{"domain":[-3,3],"nice":false},"axis":{"title":"X-coordinate","values":[-3,-2,-1,0,1,2,3],"labelExpr":"''+datum.value"}},
"y":{"field":"y","type":"quantitative","scale":{"domain":[-3,3],"nice":false},"axis":{"title":"Y-coordinate","values":[-3,-2,-1,0,1,2,3],"labelExpr":"''+datum.value","titlePadding":10}},
"detail":{"field":"s"},"order":{"value":null},
"fill":{"field":"l","type":"nominal","legend":null,"scale":{"domain":["L1","L2","L3","L4","L5","L6","L7","L8","L9","L10","L11"],"range":["#3b55a5","#138088","#4cad3c","#b8dc94","#fbef1f","#f39a1d","#e96f15","#e34f10","#dc2c0c","#bf1f10","#9c1a14"]}}}},
{"data":{"values":[{"v":0}]},"mark":{"type":"rule","stroke":"#e8e8f0","strokeWidth":2,"strokeDash":[2,4]},"encoding":{"x":{"field":"v","type":"quantitative"}}},
{"data":{"values":[{"v":0}]},"mark":{"type":"rule","stroke":"#e8e8f0","strokeWidth":2,"strokeDash":[2,4]},"encoding":{"y":{"field":"v","type":"quantitative"}}},
{"data":{"values":[{"g":"shaft","x":2.51,"y":-2.08},{"g":"shaft","x":-2.51,"y":2.12},{"g":"head","x":-2.2,"y":2.12},{"g":"head","x":-2.51,"y":2.12},{"g":"head","x":-2.39,"y":1.78}]},"mark":{"type":"line","stroke":"#f2f2f6","strokeWidth":2.5},"encoding":{"x":{"field":"x","type":"quantitative"},"y":{"field":"y","type":"quantitative"},"detail":{"field":"g"},"order":{"value":null}}},
{"data":{"values":[{"x":-3.37,"y":3.2,"t":"b"}]},"mark":{"type":"text","fontSize":30,"fontWeight":"bold","color":"#222","clip":false},"encoding":{"x":{"field":"x","type":"quantitative"},"y":{"field":"y","type":"quantitative"},"text":{"field":"t"}}}
]}
]}
